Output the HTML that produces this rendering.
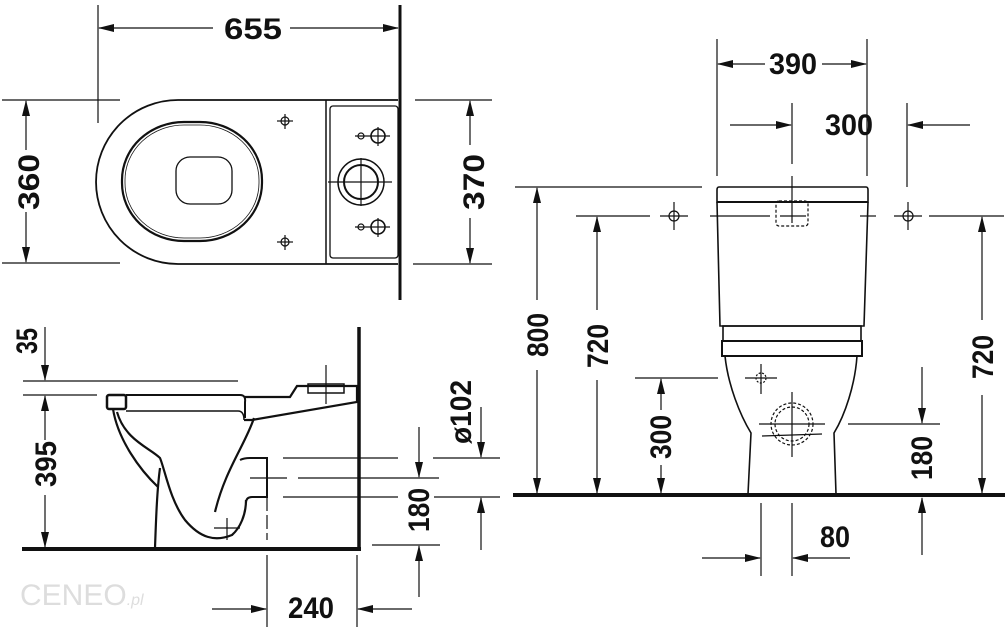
<!DOCTYPE html>
<html><head><meta charset="utf-8"><style>
html,body{margin:0;padding:0;background:#fff;}
svg{display:block;}
text{font-family:"Liberation Sans Narrow","Liberation Sans",sans-serif;font-weight:bold;font-size:30px;fill:#111;}
</style></head><body>
<svg width="1006" height="632" viewBox="0 0 1006 632" xmlns="http://www.w3.org/2000/svg">
<defs>
<marker id="a" markerWidth="16" markerHeight="8" refX="15" refY="4" orient="auto" markerUnits="userSpaceOnUse">
<path d="M0,0 L16,4 L0,8 Z" fill="#111"/></marker>
</defs>
<g stroke="#111" fill="none" stroke-width="1.2">
<!-- ===== TOP VIEW ===== -->
<line x1="98" y1="5" x2="98" y2="123"/>
<line x1="400" y1="5" x2="400" y2="300" stroke-width="3"/>
<line x1="213" y1="28" x2="99" y2="28" marker-end="url(#a)"/>
<line x1="290" y1="28" x2="398" y2="28" marker-end="url(#a)"/>
<line x1="2" y1="100" x2="120" y2="100"/>
<line x1="2" y1="263" x2="120" y2="263"/>
<line x1="26" y1="150" x2="26" y2="101" marker-end="url(#a)"/>
<line x1="26" y1="212" x2="26" y2="262" marker-end="url(#a)"/>
<path d="M398,100 H178 A82,82 0 0 0 178,264 H398" stroke-width="1.8"/>
<rect x="122" y="122" width="140" height="119" rx="62" ry="58" stroke-width="2.2"/>
<rect x="125" y="125" width="134" height="113" rx="59" ry="55" stroke-width="0.8"/>
<rect x="176" y="157" width="56" height="47" rx="14" stroke-width="1.3"/>
<path d="M326,100 V264" stroke-width="1.5"/>
<rect x="330" y="106" width="68" height="152" rx="3" stroke-width="1.3"/>
<circle cx="361" cy="182" r="23" stroke-width="1.5"/>
<circle cx="361" cy="182" r="17" stroke-width="2"/>
<line x1="328" y1="182" x2="392" y2="182"/><line x1="361" y1="158" x2="361" y2="206"/>
<circle cx="361" cy="136" r="3"/><circle cx="378" cy="136" r="7" stroke-width="1.6"/>
<line x1="355" y1="136" x2="390" y2="136"/><line x1="378" y1="127" x2="378" y2="146"/>
<circle cx="361" cy="227" r="3"/><circle cx="378" cy="227" r="7" stroke-width="1.6"/>
<line x1="355" y1="227" x2="390" y2="227"/><line x1="378" y1="218" x2="378" y2="237"/>
<circle cx="285" cy="121" r="4"/><line x1="277" y1="121" x2="293" y2="121"/><line x1="285" y1="114" x2="285" y2="129"/>
<circle cx="285" cy="242" r="4"/><line x1="277" y1="242" x2="293" y2="242"/><line x1="285" y1="235" x2="285" y2="250"/>
<line x1="415" y1="100" x2="492" y2="100"/>
<line x1="413" y1="264" x2="492" y2="264"/>
<line x1="470" y1="145" x2="470" y2="101" marker-end="url(#a)"/>
<line x1="470" y1="218" x2="470" y2="263" marker-end="url(#a)"/>

<!-- ===== SIDE VIEW ===== -->
<line x1="359" y1="327" x2="359" y2="551" stroke-width="3.5"/>
<line x1="22" y1="549" x2="361" y2="549" stroke-width="4"/>
<line x1="23" y1="381" x2="238" y2="381"/>
<line x1="23" y1="395" x2="97" y2="395"/>
<line x1="45" y1="327" x2="45" y2="380" marker-end="url(#a)"/>
<line x1="45" y1="440" x2="45" y2="396" marker-end="url(#a)"/>
<line x1="45" y1="495" x2="45" y2="547" marker-end="url(#a)"/>
<rect x="107" y="395" width="19" height="14" rx="2" stroke-width="2.5"/>
<path d="M126,395 H240 Q246,395 245,402 V418" stroke-width="2"/>
<path d="M126,411 H238 Q244,411 244,420" stroke-width="1.5"/>
<path d="M244,397 H290 L297,386 H357 V402 L252,420 H244" stroke-width="2.2"/>
<rect x="308" y="384" width="36" height="9" stroke-width="1.5"/>
<line x1="326" y1="365" x2="326" y2="404"/>
<path d="M113,409 C118,440 140,470 158,487" stroke-width="2.2"/>
<path d="M117,412 C125,440 150,448 160,458 C165,470 170,500 185,520 C200,538 215,542 232,535 C240,528 246,515 246,500" stroke-width="2.2"/>
<path d="M160,468 C157,490 156,520 155,548" stroke-width="2.2"/>
<path d="M254,418 C245,445 225,470 215,512" stroke-width="2.2"/>
<path d="M240,460 Q244,458 250,458 H267 V497 H252 Q246,497 246,503" stroke-width="2"/>
<line x1="267" y1="497" x2="267" y2="540" stroke-dasharray="14,4"/>
<line x1="250" y1="478" x2="287" y2="478"/>
<line x1="214" y1="528" x2="240" y2="528"/><line x1="227" y1="518" x2="227" y2="540"/>
<line x1="283" y1="458" x2="398" y2="458"/><line x1="433" y1="458" x2="500" y2="458"/>
<line x1="298" y1="478" x2="439" y2="478"/>
<line x1="283" y1="497" x2="398" y2="497"/><line x1="434" y1="497" x2="500" y2="497"/>
<line x1="481" y1="407" x2="481" y2="457" marker-end="url(#a)"/>
<line x1="481" y1="550" x2="481" y2="498" marker-end="url(#a)"/>
<line x1="419" y1="427" x2="419" y2="477" marker-end="url(#a)"/>
<line x1="419" y1="597" x2="419" y2="546" marker-end="url(#a)"/>
<line x1="372" y1="545" x2="440" y2="545"/>
<line x1="267" y1="555" x2="267" y2="627"/>
<line x1="357" y1="555" x2="357" y2="627"/>
<line x1="212" y1="609" x2="266" y2="609" marker-end="url(#a)"/>
<line x1="412" y1="609" x2="358" y2="609" marker-end="url(#a)"/>

<!-- ===== FRONT VIEW ===== -->
<line x1="717" y1="39" x2="717" y2="176"/>
<line x1="867" y1="39" x2="867" y2="176"/>
<line x1="765" y1="64" x2="718" y2="64" marker-end="url(#a)"/>
<line x1="822" y1="64" x2="866" y2="64" marker-end="url(#a)"/>
<line x1="792" y1="103" x2="792" y2="164"/><line x1="792" y1="176" x2="792" y2="223"/>
<line x1="907" y1="103" x2="907" y2="187"/>
<line x1="730" y1="125" x2="791" y2="125" marker-end="url(#a)"/>
<line x1="970" y1="125" x2="908" y2="125" marker-end="url(#a)"/>
<path d="M719,187 H866 Q868,187 868,190 V202 H717 V190 Q717,187 719,187 Z" stroke-width="1.6"/>
<line x1="717" y1="202" x2="868" y2="202" stroke-width="2"/>
<path d="M717,202 L720,326 H864 L868,202" stroke-width="1.6"/>
<rect x="723" y="326" width="138" height="15" stroke-width="1.6"/>
<rect x="722" y="341" width="140" height="15" stroke-width="2"/>
<path d="M725,356 C728,385 740,415 751,433 L748,494" stroke-width="1.6"/>
<path d="M857,356 C855,385 845,415 834,433 L836,494" stroke-width="1.6"/>
<rect x="776" y="201" width="32" height="25" rx="3" stroke-dasharray="3,2"/>
<line x1="576" y1="216" x2="650" y2="216"/>
<line x1="660" y1="216" x2="688" y2="216"/>
<line x1="710" y1="216" x2="770" y2="216"/>
<line x1="780" y1="216" x2="806" y2="216"/>
<line x1="860" y1="216" x2="876" y2="216"/>
<line x1="894" y1="216" x2="922" y2="216"/>
<line x1="929" y1="216" x2="1004" y2="216"/>
<circle cx="674" cy="216" r="5"/><line x1="674" y1="202" x2="674" y2="230"/>
<circle cx="908" cy="216" r="5"/><line x1="908" y1="202" x2="908" y2="230"/>
<line x1="515" y1="187" x2="702" y2="187"/>
<line x1="537" y1="300" x2="537" y2="188" marker-end="url(#a)"/>
<line x1="537" y1="370" x2="537" y2="493" marker-end="url(#a)"/>
<line x1="597" y1="310" x2="597" y2="217" marker-end="url(#a)"/>
<line x1="597" y1="380" x2="597" y2="493" marker-end="url(#a)"/>
<line x1="635" y1="378" x2="718" y2="378"/>
<line x1="661" y1="410" x2="661" y2="379" marker-end="url(#a)"/>
<line x1="661" y1="465" x2="661" y2="493" marker-end="url(#a)"/>
<circle cx="761" cy="378" r="5" stroke-dasharray="2,1.5"/>
<line x1="745" y1="378" x2="777" y2="378"/><line x1="761" y1="364" x2="761" y2="394"/>
<circle cx="792" cy="424" r="21" stroke-dasharray="3,2"/>
<circle cx="792" cy="424" r="17" stroke-dasharray="3,2"/>
<line x1="759" y1="424" x2="825" y2="424"/>
<line x1="762" y1="436" x2="822" y2="434"/>
<line x1="792" y1="392" x2="792" y2="457"/>
<line x1="848" y1="424" x2="940" y2="424"/>
<line x1="922" y1="367" x2="922" y2="423" marker-end="url(#a)"/>
<line x1="922" y1="555" x2="922" y2="498" marker-end="url(#a)"/>
<line x1="982" y1="320" x2="982" y2="217" marker-end="url(#a)"/>
<line x1="982" y1="395" x2="982" y2="493" marker-end="url(#a)"/>
<line x1="513" y1="495" x2="1005" y2="495" stroke-width="4"/>
<line x1="761" y1="503" x2="761" y2="576"/>
<line x1="792" y1="503" x2="792" y2="576"/>
<line x1="702" y1="558" x2="760" y2="558" marker-end="url(#a)"/>
<line x1="850" y1="558" x2="793" y2="558" marker-end="url(#a)"/>
</g>

<g>
<text x="253" y="39" text-anchor="middle" textLength="58" lengthAdjust="spacingAndGlyphs">655</text>
<text transform="translate(39,182) rotate(-90)" text-anchor="middle" textLength="56" lengthAdjust="spacingAndGlyphs">360</text>
<text transform="translate(484,182) rotate(-90)" text-anchor="middle" textLength="56" lengthAdjust="spacingAndGlyphs">370</text>
<text transform="translate(37,341) rotate(-90)" text-anchor="middle" textLength="26" lengthAdjust="spacingAndGlyphs" font-size="24">35</text>
<text transform="translate(56,464) rotate(-90)" text-anchor="middle" textLength="46" lengthAdjust="spacingAndGlyphs" font-size="24">395</text>
<text transform="translate(471,412) rotate(-90)" text-anchor="middle" textLength="64" lengthAdjust="spacingAndGlyphs" font-size="24">ø102</text>
<text transform="translate(429,510) rotate(-90)" text-anchor="middle" textLength="44" lengthAdjust="spacingAndGlyphs" font-size="24">180</text>
<text x="311" y="618" text-anchor="middle" textLength="46" lengthAdjust="spacingAndGlyphs" font-size="26">240</text>
<text x="793" y="74" text-anchor="middle" textLength="48" lengthAdjust="spacingAndGlyphs" font-size="26">390</text>
<text x="849" y="135" text-anchor="middle" textLength="48" lengthAdjust="spacingAndGlyphs" font-size="26">300</text>
<text transform="translate(548,335) rotate(-90)" text-anchor="middle" textLength="44" lengthAdjust="spacingAndGlyphs" font-size="24">800</text>
<text transform="translate(608,346) rotate(-90)" text-anchor="middle" textLength="44" lengthAdjust="spacingAndGlyphs" font-size="24">720</text>
<text transform="translate(671,437) rotate(-90)" text-anchor="middle" textLength="44" lengthAdjust="spacingAndGlyphs" font-size="24">300</text>
<text transform="translate(932,458) rotate(-90)" text-anchor="middle" textLength="44" lengthAdjust="spacingAndGlyphs" font-size="24">180</text>
<text transform="translate(993,357) rotate(-90)" text-anchor="middle" textLength="44" lengthAdjust="spacingAndGlyphs" font-size="24">720</text>
<text x="835" y="547" text-anchor="middle" textLength="30" lengthAdjust="spacingAndGlyphs" font-size="26">80</text>
<text x="20" y="605" font-size="20" style="fill:#ddd;font-weight:normal">CENEO<tspan font-style="italic" font-size="16">.pl</tspan></text>
</g>
</svg>
</body></html>
